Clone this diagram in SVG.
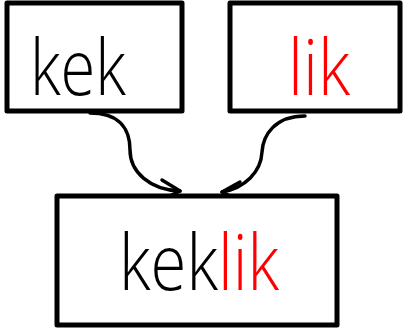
<svg xmlns="http://www.w3.org/2000/svg" width="404" height="336" viewBox="0 0 404 336">
<style>
.box{fill:#fff;stroke:#000;stroke-width:5;stroke-linejoin:round}
.lbl{font-family:"Open Sans","Liberation Sans",sans-serif;font-weight:300;font-size:78px}
.edge{fill:none;stroke:#000;stroke-width:3.5;stroke-linecap:round;stroke-linejoin:round}
</style>
<rect width="404" height="336" fill="#fff"/>
<g id="edges">
<path class="edge" d="M90,113 C122,113 130,132 130,150 C130,172 150,190 180,191"/>
<path class="edge" d="M162,180 L180,191 L161,200"/>
<path class="edge" d="M305,116 C275,116 263,135 262,152 C261,172 245,188 222,192"/>
<path class="edge" d="M240,182 L222,192 L242,202"/>
</g>
<g id="node-kek">
<rect class="box" x="7" y="3" width="175" height="108"/>
<text class="lbl" x="30" y="95" fill="#000" textLength="96" lengthAdjust="spacingAndGlyphs">kek</text>
</g>
<g id="node-lik">
<rect class="box" x="230" y="3" width="170" height="108"/>
<text class="lbl" x="288" y="95" fill="#f00" textLength="62" lengthAdjust="spacingAndGlyphs">lik</text>
</g>
<g id="node-keklik">
<rect class="box" x="57" y="196" width="280" height="129"/>
<text class="lbl" x="119" y="290" textLength="160" lengthAdjust="spacingAndGlyphs"><tspan fill="#000">kek</tspan><tspan fill="#f00">lik</tspan></text>
</g>
</svg>
